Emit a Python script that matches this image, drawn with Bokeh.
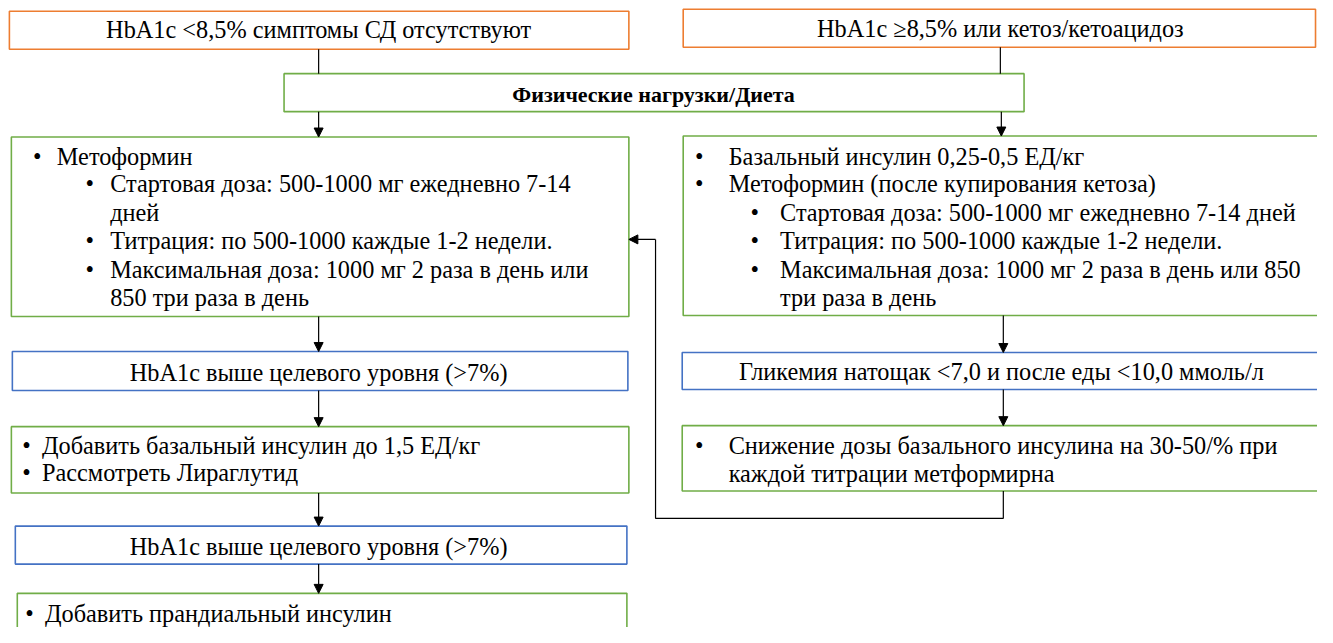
from bokeh.plotting import figure
from bokeh.models import Range1d, Arrow, NormalHead, ColumnDataSource
from bokeh.core.properties import value
from bokeh.embed import file_html
from bokeh.resources import INLINE

# ---- content ----
top_left_label = "HbA1c <8,5% симптомы СД отсутствуют"
top_right_label = "HbA1c ≥8,5% или кетоз/кетоацидоз"
common_label = "Физические нагрузки/Диета"
left_main_items = [
    ("•", "Метоформин", 1),
    ("•", "Стартовая доза: 500-1000 мг ежедневно 7-14", 2),
    ("", "дней", 2),
    ("•", "Титрация: по 500-1000 каждые 1-2 недели.", 2),
    ("•", "Максимальная доза: 1000 мг 2 раза в день или", 2),
    ("", "850 три раза в день", 2),
]
right_main_items = [
    ("•", "Базальный инсулин 0,25-0,5 ЕД/кг", 1),
    ("•", "Метоформин (после купирования кетоза)", 1),
    ("•", "Стартовая доза: 500-1000 мг ежедневно 7-14 дней", 2),
    ("•", "Титрация: по 500-1000 каждые 1-2 недели.", 2),
    ("•", "Максимальная доза: 1000 мг 2 раза в день или 850", 2),
    ("", "три раза в день", 2),
]
check_label = "HbA1c выше целевого уровня (>7%)"
glyc_label = "Гликемия натощак <7,0 и после еды <10,0 ммоль/л"
left_step2 = ["Добавить базальный инсулин до 1,5 ЕД/кг", "Рассмотреть Лираглутид"]
right_step2 = ["Снижение дозы базального инсулина на 30-50/% при",
               "каждой титрации метформирна"]
left_step3 = ["Добавить прандиальный инсулин"]

# ---- layout (reference pixel coordinates) ----
ORANGE, GREEN, BLUE = "#ED7D31", "#70AD47", "#4472C4"
FONT = value("Liberation Serif, Times New Roman, serif")
FS = "24.3px"

p = figure(width=1317, height=627, output_backend="svg", toolbar_location=None,
           x_range=Range1d(0, 1333), y_range=Range1d(643, 0), min_border=0)
p.axis.visible = False
p.grid.visible = False
p.outline_line_color = None
p.background_fill_color = "white"

boxes = dict(
    left=[9, 691, 287, 11, 691, 12, 690, 11, 690, 15, 17],
    right=[636, 1331, 1036, 636, 1345, 635, 1345, 636, 1345, 634, 634],
    top=[11, 9, 75, 140, 139, 360, 361, 437, 436, 539, 608],
    bottom=[50, 48, 114, 324, 323, 400, 399, 505, 503, 578, 680],
    color=[ORANGE, ORANGE, GREEN, GREEN, GREEN, BLUE, BLUE, GREEN, GREEN, BLUE, GREEN],
)
p.quad(left="left", right="right", top="top", bottom="bottom",
       source=ColumnDataSource(boxes), fill_color="white",
       line_color="color", line_width=1.6)

def txt(x, y, s, align="left", bold=False, size=FS):
    p.text(x=[x], y=[y], text=[s], text_font=FONT, text_font_size=size,
           text_align=align, text_baseline="middle", text_color="black",
           text_font_style="bold" if bold else "normal")

txt(322, 30, top_left_label, "center")
txt(1012, 29, top_right_label, "center")
txt(661, 96, common_label, "center", bold=True, size="22px")

ly = [160, 188, 217, 246, 276, 305]
for (b, s, lvl), y in zip(left_main_items, ly):
    bx, tx = (33, 57) if lvl == 1 else (86, 111)
    if b:
        txt(bx, y, b)
    txt(tx, y, s)
for (b, s, lvl), y in zip(right_main_items, ly):
    bx, tx = (703, 737) if lvl == 1 else (759, 789)
    if b:
        txt(bx, y, b)
    txt(tx, y, s)

txt(322, 381, check_label, "center")
txt(1013, 380, glyc_label, "center")

for s, y in zip(left_step2, [456, 484]):
    txt(22, y, "•")
    txt(42, y, s)
txt(703, 456, "•")
for s, y in zip(right_step2, [456, 485]):
    txt(737, y, s)

txt(322, 560, check_label, "center")
for s, y in zip(left_step3, [629]):
    txt(25, y, "•")
    txt(45, y, s)

# ---- connectors ----
p.segment(x0=[322, 1012], y0=[50, 48], x1=[322, 1012], y1=[75, 75],
          line_color="black", line_width=1.2)

def arrow(x0, y0, x1, y1):
    p.add_layout(Arrow(end=NormalHead(size=9, fill_color="black", line_color="black",
                                      line_width=1),
                       x_start=x0, y_start=y0, x_end=x1, y_end=y1,
                       line_color="black", line_width=1.2))

arrow(322, 114, 322, 140)
arrow(1013, 114, 1013, 139)
arrow(322, 324, 322, 360)
arrow(1015, 323, 1015, 361)
arrow(322, 400, 322, 437)
arrow(1015, 399, 1015, 436)
arrow(322, 505, 322, 539)
arrow(322, 578, 322, 608)

p.line(x=[1015, 1015, 663, 663], y=[503, 531, 531, 245], line_color="black",
       line_width=1.2)
arrow(663, 245, 636, 245)

open("out.html", "w").write(file_html(p, INLINE))
